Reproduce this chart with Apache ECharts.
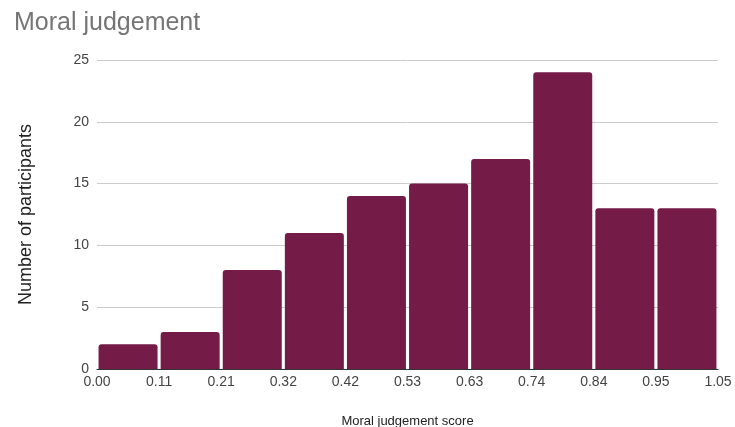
<!DOCTYPE html>
<html>
<head>
<meta charset="utf-8">
<script src="https://cdn.jsdelivr.net/npm/echarts@6/dist/echarts.min.js"></script>
<style>
  html, body { margin: 0; padding: 0; background: #fff; }
  #chart { width: 735px; height: 427px; }
</style>
</head>
<body>
<div id="chart"></div>
<script>
// Histogram bins of moral judgement scores
const binLabels = ['0.00-0.11', '0.11-0.21', '0.21-0.32', '0.32-0.42', '0.42-0.53',
                   '0.53-0.63', '0.63-0.74', '0.74-0.84', '0.84-0.95', '0.95-1.05'];
const participantCounts = [2, 3, 8, 11, 14, 15, 17, 24, 13, 13];
const edgeTickLabels = ['0.00', '0.11', '0.21', '0.32', '0.42', '0.53', '0.63', '0.74', '0.84', '0.95', '1.05'];

const FONT = '"Liberation Sans", Arial, sans-serif';
const chart = echarts.init(document.getElementById('chart'), null, { renderer: 'canvas' });

chart.setOption({
  animation: false,
  backgroundColor: '#ffffff',
  title: {
    text: 'Moral judgement',
    left: 9,
    top: 6,
    textStyle: { fontFamily: FONT, fontSize: 25, fontWeight: 'normal', color: '#757575' }
  },
  grid: { left: 97, right: 17, top: 60, bottom: 58, containLabel: false, outerBoundsMode: 'none' },
  xAxis: [
    {
      type: 'category',
      data: binLabels,
      boundaryGap: true,
      axisLine: { show: false },
      axisTick: { show: false },
      axisLabel: { show: false },
      splitLine: { show: false }
    },
    {
      type: 'value',
      position: 'bottom',
      min: 0,
      max: 10,
      interval: 1,
      axisLine: { show: true, onZero: false, lineStyle: { color: '#333333', width: 1 } },
      axisTick: { show: false },
      splitLine: { show: false },
      axisLabel: {
        fontFamily: FONT, fontSize: 14, color: '#444444', margin: 6,
        formatter: v => edgeTickLabels[Math.round(v)]
      },
      name: 'Moral judgement score',
      nameLocation: 'middle',
      nameGap: 46,
      nameTextStyle: { fontFamily: FONT, fontSize: 13, color: '#222222' }
    }
  ],
  yAxis: {
    type: 'value',
    min: 0,
    max: 25,
    interval: 5,
    axisLine: { show: false },
    axisTick: { show: false },
    axisLabel: { fontFamily: FONT, fontSize: 14, color: '#444444', margin: 8 },
    splitLine: { lineStyle: { color: '#cccccc', width: 1 } },
    name: 'Number of participants',
    nameLocation: 'middle',
    nameGap: 62,
    nameRotate: 90,
    nameTextStyle: { fontFamily: FONT, fontSize: 18, color: '#222222' }
  },
  series: [{
    type: 'bar',
    xAxisIndex: 0,
    data: participantCounts,
    barCategoryGap: '5%',
    itemStyle: { color: '#741b47', borderRadius: [3, 3, 0, 0] },
    z: 3
  }]
});
</script>
</body>
</html>
